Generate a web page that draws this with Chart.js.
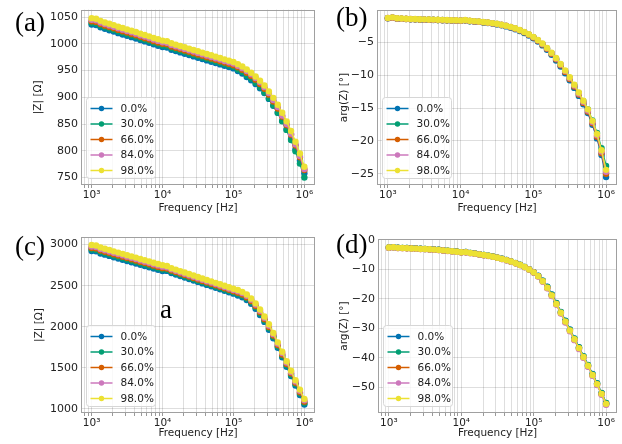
<!DOCTYPE html>
<html><head><meta charset="utf-8">
<script src="https://cdn.jsdelivr.net/npm/chart.js@4.4.1/dist/chart.umd.min.js"></script>
<style>
html,body{margin:0;padding:0;background:#fff;width:622px;height:444px;overflow:hidden}
#wrap{position:relative;width:622px;height:444px;background:#fff}
canvas{position:absolute}
.pl{position:absolute;font-family:"Liberation Serif","Times New Roman",serif;font-size:27px;line-height:27px;color:#000;white-space:nowrap}
</style></head><body>
<div id="wrap">
<canvas id="ca" width="330" height="222" style="left:0px;top:0px"></canvas>
<canvas id="cb" width="311" height="222" style="left:311px;top:0px"></canvas>
<canvas id="cc" width="330" height="222" style="left:0px;top:222px"></canvas>
<canvas id="cd" width="311" height="222" style="left:311px;top:222px"></canvas>
<div class="pl" style="left:15px;top:9px">(a)</div>
<div class="pl" style="left:336px;top:4px">(b)</div>
<div class="pl" style="left:15px;top:233px">(c)</div>
<div class="pl" style="left:336px;top:231px">(d)</div>
<div class="pl" style="left:160px;top:296px">a</div>
</div>
<script>
// ---- data ----
const freqHz = [1000,1155,1334,1540,1778,2054,2371,2738,3162,3652,4217,4870,5623,6494,7499,8660,10000,
11548,13335,15399,17783,20535,23714,27384,31623,36517,42170,48697,56234,64938,74989,86596,100000,
115478,133352,153993,177828,205353,237137,273842,316228,365174,421697,486968,562341,649382,749894,865964,1000000];

const seriesLabels = ['0.0%','30.0%','66.0%','84.0%','98.0%'];
const seriesColors = ['#0173b2','#029e73','#d55e00','#cc78bc','#ece133'];

// (a) |Z| [Ohm]
const magA_0 = [1036,1035,1031,1028,1025.5,1023,1020,1017.5,1015,1012.5,1010,1007,1004.5,1002,999,996.5,994,
993,989,986.5,984,981.5,979,976.5,974,971.5,969,966.5,964,961.5,959,956.5,954,
949,944.5,938,932,925,917,908,897,884,871,856,840,822,803,782,758];
const magA_30 = [1039,1038,1034,1031,1028.5,1026,1023,1020.5,1018,1015.5,1013,1010,1007.5,1005,1002,999.5,997,
996,992,989.5,987,984.5,982,979.5,977,974.5,972,969.5,967,964.5,962,959.5,957,
952,947.5,941,935,927,919,909,898,885,871,855,839,820,799,776,750];
const magA_66 = [1042,1041,1037,1034,1031.5,1029,1026,1023.5,1021,1018.5,1016,1013,1010.5,1008,1005,1002.5,1000,
999,995,992.5,990,987.5,985,982.5,980,977.5,975,972.5,970,967.5,965,962.5,960,
956,951.5,946,940,933,925,916,905,892,879,864,848,830,810,788,764];
const magA_84 = [1045,1044,1040,1037,1034.5,1032,1029,1026.5,1024,1021.5,1019,1016,1013.5,1011,1008,1005.5,1003,
1002,998,995.5,993,990.5,988,985.5,983,980.5,978,975.5,973,970.5,968,965.5,963,
959,954.5,949,943,936,928,919,908,895,882,866,850,832,812,790,766];
const magA_98 = [1048,1047,1043,1040,1037.5,1035,1032,1029.5,1027,1024.5,1022,1019,1016.5,1014,1011,1008.5,1006,
1005,1001,998.5,996,993.5,991,988.5,986,983.5,981,978.5,976,973.5,971,968.5,966,
962,957.5,952,946,939,931,922,911,899,886,871,855,837,817,795,770];

// (b) arg(Z) [deg]
const phsB_0 = [-1.35,-1.28,-1.41,-1.45,-1.47,-1.50,-1.52,-1.55,-1.57,-1.59,-1.61,-1.63,-1.65,-1.67,-1.69,-1.71,-1.73,
-1.67,-1.80,-1.85,-1.91,-1.99,-2.07,-2.17,-2.29,-2.43,-2.59,-2.79,-3.02,-3.29,-3.61,-3.98,-4.40,
-4.90,-5.48,-6.16,-6.92,-7.77,-8.70,-9.71,-10.79,-11.94,-13.16,-14.44,-15.76,-17.56,-19.62,-22.15,-25.50];
const phsB_30 = [-1.33,-1.26,-1.39,-1.43,-1.45,-1.48,-1.50,-1.53,-1.55,-1.57,-1.59,-1.61,-1.63,-1.65,-1.67,-1.69,-1.71,
-1.65,-1.77,-1.82,-1.88,-1.95,-2.03,-2.12,-2.23,-2.36,-2.52,-2.70,-2.92,-3.18,-3.48,-3.84,-4.25,
-4.74,-5.30,-5.96,-6.70,-7.52,-8.42,-9.40,-10.44,-11.55,-12.73,-13.96,-15.22,-16.90,-18.80,-21.10,-23.80];
const phsB_66 = [-1.34,-1.27,-1.40,-1.44,-1.46,-1.49,-1.51,-1.54,-1.56,-1.58,-1.60,-1.62,-1.64,-1.66,-1.68,-1.70,-1.72,
-1.66,-1.78,-1.83,-1.89,-1.96,-2.04,-2.13,-2.24,-2.37,-2.52,-2.71,-2.93,-3.19,-3.50,-3.86,-4.27,
-4.76,-5.33,-6.00,-6.75,-7.59,-8.51,-9.51,-10.58,-11.72,-12.94,-14.22,-15.55,-17.33,-19.37,-21.86,-25.00];
const phsB_84 = [-1.32,-1.25,-1.38,-1.42,-1.44,-1.47,-1.49,-1.52,-1.54,-1.56,-1.58,-1.60,-1.62,-1.64,-1.66,-1.68,-1.70,
-1.64,-1.76,-1.81,-1.87,-1.94,-2.02,-2.11,-2.22,-2.35,-2.50,-2.68,-2.90,-3.16,-3.46,-3.81,-4.22,
-4.70,-5.26,-5.92,-6.66,-7.49,-8.40,-9.39,-10.45,-11.58,-12.79,-14.05,-15.37,-17.13,-19.15,-21.62,-24.70];
const phsB_98 = [-1.30,-1.22,-1.36,-1.40,-1.42,-1.45,-1.47,-1.50,-1.52,-1.54,-1.56,-1.58,-1.60,-1.62,-1.64,-1.66,-1.68,
-1.62,-1.74,-1.79,-1.85,-1.92,-2.00,-2.09,-2.20,-2.33,-2.48,-2.66,-2.88,-3.13,-3.43,-3.78,-4.18,
-4.65,-5.20,-5.85,-6.58,-7.40,-8.30,-9.28,-10.33,-11.45,-12.65,-13.90,-15.20,-16.95,-18.95,-21.40,-24.40];

// (c) |Z| [Ohm]
const magC_0 = [2923,2918,2893,2878,2863,2846,2831,2816,2800,2785,2770,2754,2739,2724,2708,2693,2678,
2680,2654,2636,2618,2600,2582,2564,2546,2528,2510,2493,2475,2457,2439,2421,2403,
2381,2359,2326,2279,2219,2144,2059,1964,1859,1744,1629,1514,1399,1284,1169,1054];
const magC_30 = [2941,2936,2911,2896,2881,2864,2849,2834,2818,2803,2788,2772,2757,2742,2726,2711,2696,
2695,2669,2651,2633,2615,2597,2579,2561,2543,2525,2508,2490,2472,2454,2436,2418,
2399,2377,2344,2297,2237,2162,2077,1982,1877,1762,1647,1532,1417,1302,1187,1072];
const magC_66 = [2959,2954,2929,2914,2899,2882,2867,2852,2836,2821,2806,2790,2775,2760,2744,2729,2714,
2710,2684,2666,2648,2630,2612,2594,2576,2558,2540,2523,2505,2487,2469,2451,2433,
2415,2393,2360,2313,2253,2178,2093,1998,1893,1778,1663,1548,1433,1318,1203,1088];
const magC_84 = [2977,2972,2947,2932,2917,2900,2885,2870,2854,2839,2824,2808,2793,2778,2762,2747,2732,
2725,2699,2681,2663,2645,2627,2609,2591,2573,2555,2538,2520,2502,2484,2466,2448,
2432,2410,2377,2330,2270,2195,2110,2015,1910,1795,1680,1565,1450,1335,1220,1105];
const magC_98 = [2995,2990,2965,2950,2935,2918,2903,2888,2872,2857,2842,2826,2811,2796,2780,2765,2750,
2740,2714,2696,2678,2660,2642,2624,2606,2588,2570,2553,2535,2517,2499,2481,2463,
2447,2425,2392,2345,2285,2210,2125,2030,1925,1810,1695,1580,1465,1350,1235,1120];

// (d) arg(Z) [deg]
const phsD_0 = [-2.57,-2.47,-2.67,-2.72,-2.77,-2.87,-2.92,-3.02,-3.07,-3.17,-3.27,-3.37,-3.52,-3.67,-3.82,-3.97,-4.17,
-4.12,-4.42,-4.62,-4.87,-5.12,-5.37,-5.67,-6.02,-6.42,-6.82,-7.32,-7.87,-8.47,-9.17,-9.97,-10.97,
-12.15,-13.8,-15.9,-18.5,-21.4,-24.4,-27.4,-30.4,-33.4,-36.4,-39.4,-42.4,-45.5,-48.6,-51.9,-55.4];
const phsD_30 = [-2.55,-2.45,-2.65,-2.7,-2.75,-2.85,-2.9,-3.0,-3.05,-3.15,-3.25,-3.35,-3.5,-3.65,-3.8,-3.95,-4.15,
-4.1,-4.4,-4.6,-4.85,-5.1,-5.35,-5.65,-6.0,-6.4,-6.8,-7.3,-7.85,-8.45,-9.15,-9.95,-10.95,
-12.2,-13.85,-16.0,-18.6,-21.5,-24.5,-27.5,-30.5,-33.5,-36.5,-39.5,-42.5,-45.6,-48.7,-52.0,-55.3];
const phsD_66 = [-2.63,-2.53,-2.73,-2.78,-2.83,-2.93,-2.98,-3.08,-3.13,-3.23,-3.33,-3.43,-3.58,-3.73,-3.88,-4.03,-4.23,
-4.18,-4.48,-4.68,-4.93,-5.18,-5.43,-5.73,-6.08,-6.48,-6.88,-7.38,-7.93,-8.53,-9.23,-10.03,-11.03,
-12.35,-14.08,-16.3,-18.92,-21.83,-24.83,-27.85,-30.85,-33.85,-36.85,-39.85,-42.85,-45.95,-49.05,-52.35,-55.7];
const phsD_84 = [-2.65,-2.55,-2.75,-2.8,-2.85,-2.95,-3.0,-3.1,-3.15,-3.25,-3.35,-3.45,-3.6,-3.75,-3.9,-4.05,-4.25,
-4.2,-4.5,-4.7,-4.95,-5.2,-5.45,-5.75,-6.1,-6.5,-6.9,-7.4,-7.95,-8.55,-9.25,-10.05,-11.05,
-12.4,-14.15,-16.4,-19.05,-21.95,-24.95,-28.0,-31.0,-34.0,-37.0,-40.0,-43.0,-46.1,-49.2,-52.5,-55.9];
const phsD_98 = [-2.6,-2.5,-2.7,-2.75,-2.8,-2.9,-2.95,-3.05,-3.1,-3.2,-3.3,-3.4,-3.55,-3.7,-3.85,-4.0,-4.2,
-4.15,-4.45,-4.65,-4.9,-5.15,-5.4,-5.7,-6.05,-6.45,-6.85,-7.35,-7.9,-8.5,-9.2,-10.0,-11.0,
-12.3,-14.0,-16.2,-18.8,-21.7,-24.7,-27.7,-30.7,-33.7,-36.7,-39.7,-42.7,-45.8,-48.9,-52.2,-55.6];

// tick labels
const yTicksA = [750,800,850,900,950,1000,1050];
const yTicksB = [-25,-20,-15,-10,-5];
const yTicksC = [1000,1500,2000,2500,3000];
const yTicksD = [-50,-40,-30,-20,-10,0];
const xDecades = [1e3,1e4,1e5,1e6];
const xMin = Math.pow(10, 2.85), xMax = Math.pow(10, 6.15);

// ---- rendering ----
const FONT = '"DejaVu Sans", sans-serif';
const SUP = {'0':'⁰','1':'¹','2':'²','3':'³','4':'⁴','5':'⁵','6':'⁶','7':'⁷','8':'⁸','9':'⁹'};
const xGridVals = [];
[1e2,1e3,1e4,1e5,1e6].forEach(d => { for (let m = 1; m <= 9; m++) { const v = m*d; if (v >= xMin && v <= xMax) xGridVals.push(v); } });

const framePlugin = {
  id: 'frameAndLegend',
  afterDatasetsDraw(chart) {
    const ca = chart.chartArea, ctx = chart.ctx;
    ctx.save();
    ctx.strokeStyle = '#a0a0a0'; ctx.lineWidth = 1;
    ctx.strokeRect(Math.round(ca.left)+0.5, Math.round(ca.top)+0.5, Math.round(ca.right-ca.left)-1, Math.round(ca.bottom-ca.top)-1);
    const ds = chart.data.datasets;
    const rowH = 15.5, bw = 69, bh = 11 + rowH*(ds.length-1) + 8;
    const bx = Math.round(ca.left + 5) + 0.5, by = Math.round(ca.bottom - 7 - bh) + 0.5;
    ctx.beginPath();
    if (ctx.roundRect) ctx.roundRect(bx, by, bw, bh, 3); else ctx.rect(bx, by, bw, bh);
    ctx.fillStyle = 'rgba(255,255,255,0.8)'; ctx.fill();
    ctx.strokeStyle = '#d6d6d6'; ctx.stroke();
    ctx.font = '10.5px ' + FONT; ctx.textBaseline = 'middle'; ctx.textAlign = 'left';
    ds.forEach((d, i) => {
      const y = by + 11 + i*rowH;
      ctx.strokeStyle = d.borderColor; ctx.lineWidth = 1.5;
      ctx.beginPath(); ctx.moveTo(bx+4, y); ctx.lineTo(bx+26, y); ctx.stroke();
      ctx.fillStyle = d.borderColor;
      ctx.beginPath(); ctx.arc(bx+15, y, 2.7, 0, Math.PI*2); ctx.fill();
      ctx.fillStyle = '#222';
      ctx.fillText(d.label, bx+34, y+0.5);
    });
    ctx.restore();
  }
};

function makePanel(id, p) {
  const datasets = p.series.map((vals, i) => ({
    label: seriesLabels[i],
    data: freqHz.map((f, j) => ({x: f, y: vals[j]})),
    borderColor: seriesColors[i], backgroundColor: seriesColors[i],
    pointBackgroundColor: seriesColors[i], pointBorderColor: seriesColors[i],
    pointBorderWidth: 0, pointRadius: 3.2, borderWidth: 1.5, tension: 0,
    order: p.series.length - i
  }));
  new Chart(document.getElementById(id), {
    type: 'line',
    data: {datasets},
    options: {
      responsive: false, animation: false, devicePixelRatio: 1, events: [],
      layout: {padding: {left: 0, right: p.padRight, top: p.padTop, bottom: 0}},
      plugins: {legend: {display: false}, tooltip: {enabled: false}},
      scales: {
        x: {
          type: 'logarithmic', min: xMin, max: xMax,
          afterFit: s => { s.height = p.xH; },
          afterBuildTicks: s => { s.ticks = xGridVals.map(v => ({value: v, major: false})); },
          ticks: {
            autoSkip: false, maxRotation: 0, minRotation: 0, padding: 1, color: '#222',
            font: {family: FONT, size: 10.5},
            callback: v => {
              const e = Math.round(Math.log10(v));
              if (xDecades.some(d => Math.abs(d - v) < 1e-6*d)) return '10' + String(e).split('').map(c => SUP[c]).join('');
              return '';
            }
          },
          grid: {color: 'rgba(0,0,0,0.13)', lineWidth: 1, drawTicks: true, tickLength: 3, tickColor: '#999'},
          border: {display: false},
          title: {display: true, text: 'Frequency [Hz]', color: '#222', font: {family: FONT, size: 10.5}, padding: {top: 0, bottom: p.xTitlePad}}
        },
        y: {
          min: p.yMin, max: p.yMax,
          afterFit: s => { s.width = p.yW; },
          afterBuildTicks: s => { s.ticks = p.yTicks.map(v => ({value: v})); },
          ticks: {
            padding: 3, color: '#222', font: {family: FONT, size: 11},
            callback: v => String(v).replace('-', '\u2212')
          },
          grid: {color: 'rgba(0,0,0,0.13)', lineWidth: 1, drawTicks: false},
          border: {display: false},
          title: {display: true, text: p.yTitle, color: '#222', font: {family: FONT, size: 10.5}, padding: {top: p.yTitlePad, bottom: 0}}
        }
      }
    },
    plugins: [framePlugin]
  });
}

makePanel('ca', {series: [magA_0, magA_30, magA_66, magA_84, magA_98], yMin: 736, yMax: 1064, yTicks: yTicksA,
  yTitle: '|Z| [\u03A9]', padRight: 15, padTop: 9, xH: 37, yW: 81, xTitlePad: 7.4, yTitlePad: 31.7});
makePanel('cb', {series: [phsB_0, phsB_30, phsB_66, phsB_84, phsB_98], yMin: -26.7, yMax: -0.1, yTicks: yTicksB,
  yTitle: 'arg(Z) [\u00B0]', padRight: 5, padTop: 10, xH: 37, yW: 66, xTitlePad: 7.4, yTitlePad: 26.7});
makePanel('cc', {series: [magC_0, magC_30, magC_66, magC_84, magC_98], yMin: 950, yMax: 3093, yTicks: yTicksC,
  yTitle: '|Z| [\u03A9]', padRight: 15, padTop: 15, xH: 31, yW: 81, xTitlePad: 4, yTitlePad: 33});
makePanel('cd', {series: [phsD_0, phsD_30, phsD_66, phsD_84, phsD_98], yMin: -58.7, yMax: 0.3, yTicks: yTicksD,
  yTitle: 'arg(Z) [\u00B0]', padRight: 5, padTop: 17, xH: 31, yW: 67, xTitlePad: 4, yTitlePad: 26.7});
</script>
</body></html>
